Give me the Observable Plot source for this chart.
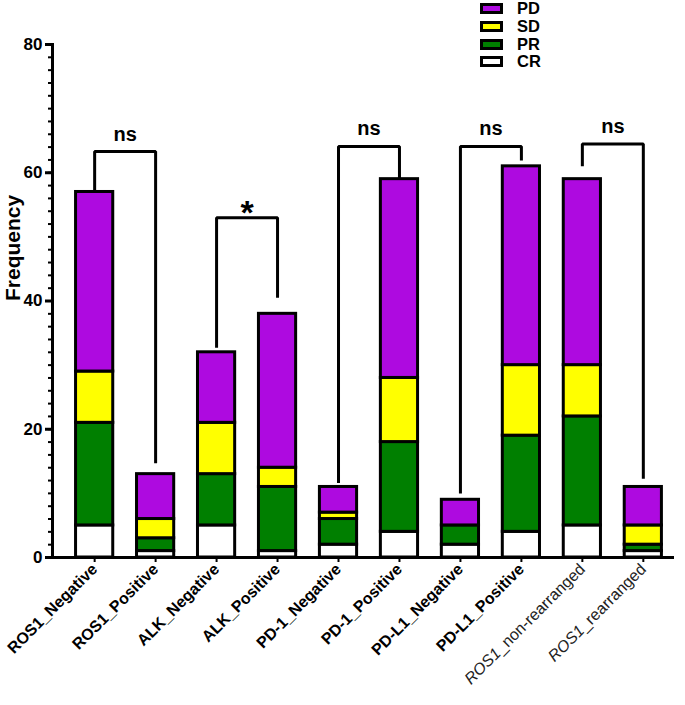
<!DOCTYPE html>
<html>
<head>
<meta charset="utf-8">
<script src="https://cdn.jsdelivr.net/npm/d3@7"></script>
<script src="https://cdn.jsdelivr.net/npm/@observablehq/plot@0.6"></script>
<style>
  html, body { margin: 0; padding: 0; background: #fff; }
  #wrap { position: relative; width: 685px; height: 705px; font-family: "Liberation Sans", Arial, sans-serif; }
  #legend { position: absolute; left: 480px; top: 0px; }
  .li { position: absolute; left: 0; height: 16px; white-space: nowrap; }
  .sw { position: absolute; left: 0; top: 3px; width: 17px; height: 5px; border: 3px solid #000; }
  .lt { position: absolute; left: 37px; top: 0px; font-weight: bold; font-size: 16.5px; line-height: 16px; color: #000; }
</style>
</head>
<body>
<div id="wrap"><div id="chart"></div><div id="legend"></div></div>
<script>
const categories = ["ROS1_Negative","ROS1_Positive","ALK_Negative","ALK_Positive","PD-1_Negative","PD-1_Positive","PD-L1_Negative","PD-L1_Positive","ROS1_non-rearranged","ROS1_rearranged"];
const responses = ["PD","SD","PR","CR"];
const CR = [5,1,5,1,2,4,2,4,5,1];
const PR = [16,2,8,10,4,14,3,15,17,1];
const SD = [8,3,8,3,1,10,0,11,8,3];
const PD = [28,7,11,24,4,31,4,31,29,6];
const colors = ["#ae0ae0","#ffff00","#007f00","#ffffff"];
const yTicks = [0,20,40,60,80];

const bracketLeft = ["ROS1_Negative","ALK_Negative","PD-1_Negative","PD-L1_Negative","ROS1_non-rearranged"];
const bracketRight = ["ROS1_Positive","ALK_Positive","PD-1_Positive","PD-L1_Positive","ROS1_rearranged"];
const bracketTop = [63.3, 53, 64.1, 64.1, 64.5];
const bracketLeftEnd = [57, 32.7, 11.6, 10, 61];
const bracketRightEnd = [14.7, 40.5, 59.1, 61.9, 12.3];
const bracketLabel = ["ns","*","ns","ns","ns"];

const seriesByResp = {CR, PR, SD, PD};
const table = [];
categories.forEach((c, i) => {
  ["CR","PR","SD","PD"].forEach(r => table.push({cat: c, resp: r, value: seriesByResp[r][i]}));
});

const bracketPts = [];
const bracketLabels = [];
bracketLeft.forEach((l, i) => {
  bracketPts.push({id: i, x: l, y: bracketLeftEnd[i]});
  bracketPts.push({id: i, x: l, y: bracketTop[i]});
  bracketPts.push({id: i, x: bracketRight[i], y: bracketTop[i]});
  bracketPts.push({id: i, x: bracketRight[i], y: bracketRightEnd[i]});
  bracketLabels.push({x: l, y: bracketTop[i], label: bracketLabel[i]});
});

const W = 685, H = 705, mL = 52, mR = 13, mT = 44, mB = 148;
const pInner = 0.39, pOuter = 0.28;
const step = (W - mL - mR) / (categories.length - pInner + 2 * pOuter);
const font = "Liberation Sans, Arial, sans-serif";

const chart = Plot.plot({
  width: W, height: H,
  marginLeft: mL, marginRight: mR, marginTop: mT, marginBottom: mB,
  style: {fontFamily: font, background: "#fff", color: "#000"},
  x: {domain: categories, paddingInner: pInner, paddingOuter: pOuter, align: 0.69, round: false, label: null},
  y: {domain: [0, 80], label: null},
  color: {domain: responses, range: colors},
  marks: [
    Plot.barY(table, {x: "cat", y: "value", fill: "resp", stroke: "#000", strokeWidth: 3, order: ["CR","PR","SD","PD"]}),
    Plot.line(bracketPts, {x: "x", y: "y", z: "id", stroke: "#000", strokeWidth: 3, strokeLinejoin: "miter", strokeLinecap: "butt"}),
    Plot.text(bracketLabels.filter(d => d.label === "ns"), {x: "x", y: "y", text: "label", dx: step / 2, dy: -11, lineAnchor: "bottom", fontSize: 20, fontWeight: "bold", fill: "#000"}),
    Plot.text(bracketLabels.filter(d => d.label === "*"), {x: "x", y: "y", text: "label", dx: step / 2, dy: 6, lineAnchor: "bottom", fontSize: 34, fontWeight: "bold", fill: "#000"}),
    Plot.axisY({ticks: d3.range(0, 81, 2), tickSize: 4, strokeWidth: 2, tickFormat: () => ""}),
    Plot.axisY({ticks: yTicks, tickSize: 7, strokeWidth: 3, tickPadding: 3, fontSize: 17, fontWeight: "bold", label: null}),
    Plot.axisX({tickRotate: -45, tickSize: 5, strokeWidth: 2, tickPadding: 4, fontSize: 16, fontWeight: "bold", label: null}),
    Plot.frame({anchor: "left", strokeWidth: 3}),
    Plot.frame({anchor: "bottom", strokeWidth: 3}),
    Plot.text(["Frequency"], {frameAnchor: "left", rotate: -90, dx: -39, fontSize: 21, fontWeight: "bold", fill: "#000"})
  ]
});

// italic gene symbol on the last two labels
d3.select(chart).selectAll('g[aria-label="x-axis tick label"] text').each(function() {
  const t = this.textContent;
  if (t.startsWith("ROS1_non") || t.startsWith("ROS1_rear")) {
    const el = d3.select(this);
    el.text(null).attr("font-weight", "normal").attr("fill", "#222");
    el.append("tspan").attr("font-style", "italic").text("ROS1");
    el.append("tspan").text(t.slice(4));
  }
});
document.getElementById("chart").appendChild(chart);

const legend = d3.select("#legend");
const legendTops = [0, 17.5, 35.5, 53];
responses.forEach((r, i) => {
  const it = legend.append("div").attr("class", "li").style("top", legendTops[i] + "px");
  it.append("div").attr("class", "sw").style("background", colors[i]);
  it.append("div").attr("class", "lt").text(r);
});
</script>
</body>
</html>
